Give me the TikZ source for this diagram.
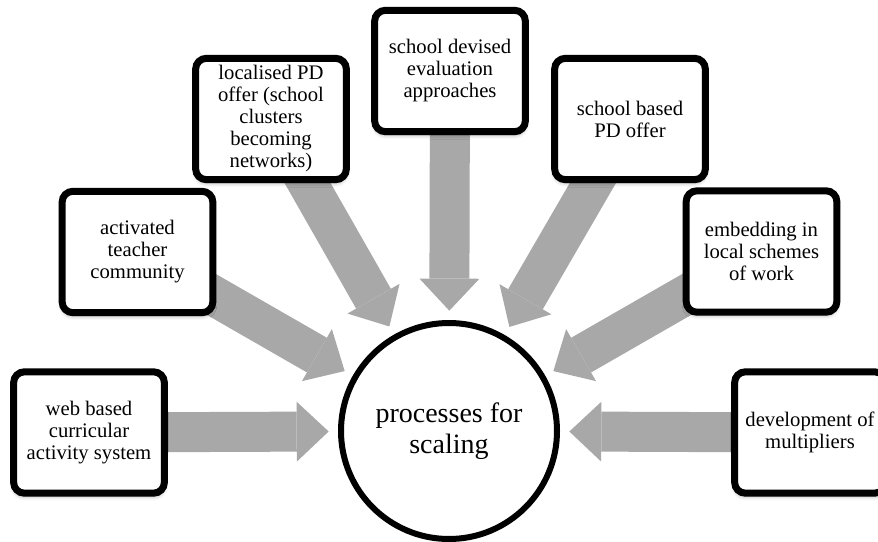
\documentclass[tikz,border=0pt]{standalone}
\usepackage{fontspec}
\setmainfont{Liberation Serif}
\usetikzlibrary{arrows.meta,backgrounds,shadows.blur}
\definecolor{arrowgray}{RGB}{168,168,168}

\begin{document}
\begin{tikzpicture}[x=0.75pt,y=-0.75pt,
  box/.style={draw=black, fill=white, line width=5.25pt, rounded corners=8pt,
    minimum width=113pt, minimum height=91pt, inner sep=2pt, align=center,
    font=\fontsize{15.5}{16.5}\selectfont,
    blur shadow={shadow xshift=0pt, shadow yshift=-2.5pt, shadow blur radius=3pt, shadow opacity=35}},
  hub/.style={circle, draw=black, fill=white, line width=4.5pt, minimum size=162pt,
    inner sep=0pt, align=center, font=\fontsize{21}{23}\selectfont},
  feed/.style={draw=arrowgray, line width=30pt,
    -{Triangle[length=24pt,width=45pt,line width=0pt]}, shorten >=7pt}]
\clip (0,0) rectangle (878,542);

\node[hub] (proc) at (449,431) {processes for\\scaling};

\node[box] (web) at (89,432.5) {web based\\curricular\\activity system};
\node[box] (act) at (137.5,252) {activated\\teacher\\community};
\node[box] (loc) at (271,119) {localised PD\\offer (school\\clusters\\becoming\\networks)};
\node[box] (eval) at (450,71) {school devised\\evaluation\\approaches};
\node[box] (base) at (630,119) {school based\\PD offer};
\node[box] (emb) at (761.5,251.5) {embedding in\\local schemes\\of work};
\node[box] (mult) at (810,432.5) {development of\\multipliers};

\begin{pgfonlayer}{background}
\foreach \src in {web,act,loc,eval,base,emb,mult}
  \draw[feed] (\src.center) -- (proc);
\end{pgfonlayer}
\end{tikzpicture}
\end{document}
